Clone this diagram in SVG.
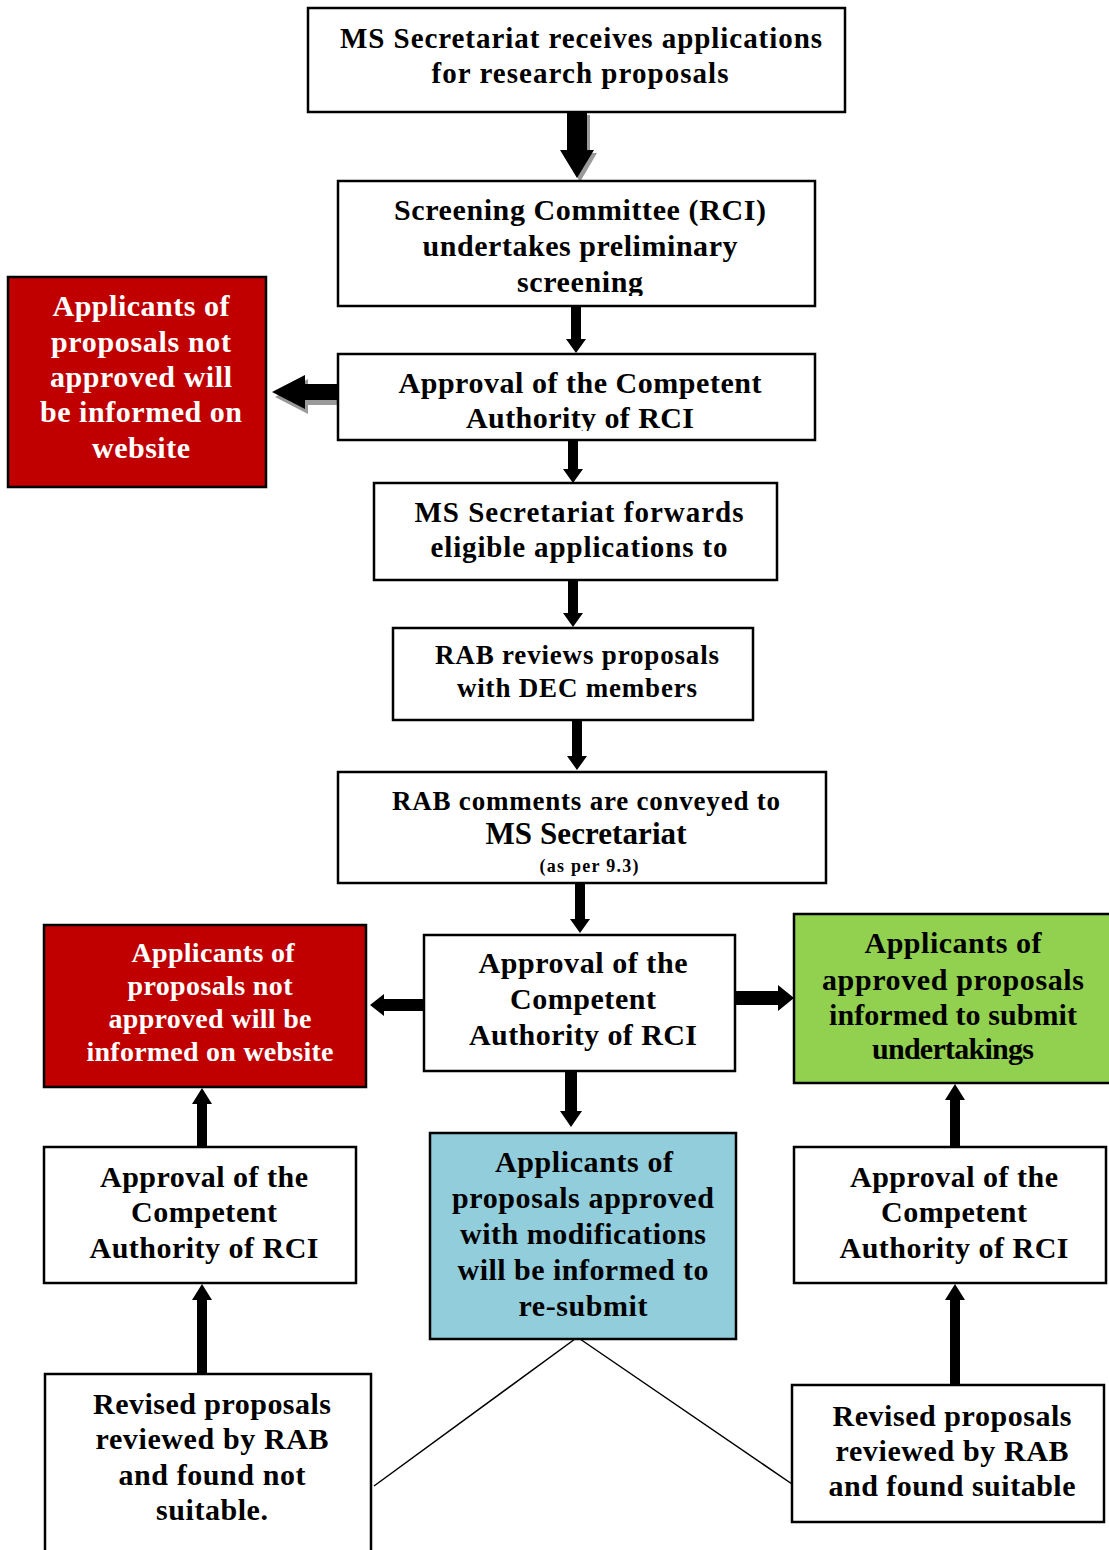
<svg xmlns="http://www.w3.org/2000/svg" width="1109" height="1550" viewBox="0 0 1109 1550">
<style>
.box{fill:#fff;stroke:#000;stroke-width:2.5}
.red{fill:#c00000;stroke:#000;stroke-width:2.5}
.green{fill:#92d050;stroke:#000;stroke-width:2.5}
.blue{fill:#92cddc;stroke:#000;stroke-width:2.5}
text{font-family:"Liberation Serif","Times New Roman",serif;font-weight:bold;text-anchor:middle;fill:#000}
.w{fill:#fff}
.arr{fill:#000}
.sh{fill:#9a9a9a}
.ln{stroke:#000;stroke-width:1.5;fill:none}
</style>
<defs>
<clipPath id="c2"><rect x="338" y="181" width="477" height="115"/></clipPath>
<clipPath id="c3"><rect x="338" y="354" width="477" height="77"/></clipPath>
</defs>
<g id="connectors">
<polygon class="sh" points="570,115 590,115 590,153 597,153 580,182 563,153 570,153"/>
<polygon class="arr" points="567,112 587,112 587,150 594,150 577,178 560,150 567,150"/>
<polygon class="arr" points="571,306 581,306 581,339 586,339 576,353 566,339 571,339"/>
<polygon class="sh" points="341,388 308,388 308,379 275,397 308,414 308,405 341,405"/>
<polygon class="arr" points="338,384 305,384 305,375 272,392 305,409 305,400 338,400"/>
<polygon class="arr" points="568,440 578,440 578,469 583,469 573,483 563,469 568,469"/>
<polygon class="arr" points="568,580 578,580 578,613 583,613 573,627 563,613 568,613"/>
<polygon class="arr" points="572,720 582,720 582,756 587,756 577,770 567,756 572,756"/>
<polygon class="arr" points="575,883 585,883 585,919 590,919 580,933 570,919 575,919"/>
<polygon class="arr" points="424,999 384,999 384,994 370,1005 384,1016 384,1011 424,1011"/>
<polygon class="arr" points="735,991 778,991 778,985 794,998 778,1011 778,1005 735,1005"/>
<polygon class="arr" points="565,1071 577,1071 577,1111 582,1111 571,1127 560,1111 565,1111"/>
<polygon class="arr" points="197,1147 207,1147 207,1104 212,1104 202,1088 192,1104 197,1104"/>
<polygon class="arr" points="197,1374 207,1374 207,1300 212,1300 202,1284 192,1300 197,1300"/>
<polygon class="arr" points="950,1147 960,1147 960,1100 965,1100 955,1084 945,1100 950,1100"/>
<polygon class="arr" points="950,1385 960,1385 960,1300 965,1300 955,1284 945,1300 950,1300"/>
<line class="ln" x1="575" y1="1339" x2="374" y2="1486"/>
<line class="ln" x1="580" y1="1339" x2="792" y2="1484"/>
</g>
<g id="n1">
<rect class="box" x="308" y="8" width="537" height="104"/>
<text x="581" y="48" font-size="29" textLength="482">MS Secretariat receives applications</text>
<text x="580" y="83" font-size="29" textLength="297">for research proposals</text>
</g>
<g id="n2">
<rect class="box" x="338" y="181" width="477" height="125"/>
<g clip-path="url(#c2)">
<text x="580" y="220" font-size="30" textLength="372">Screening Committee (RCI)</text>
<text x="580" y="256" font-size="30" textLength="315">undertakes preliminary</text>
<text x="580" y="292" font-size="30" textLength="126">screening</text>
</g>
</g>
<g id="n3">
<rect class="box" x="338" y="354" width="477" height="86"/>
<g clip-path="url(#c3)">
<text x="580" y="393" font-size="30" textLength="363">Approval of the Competent</text>
<text x="580" y="428" font-size="30" textLength="228">Authority of RCI</text>
</g>
</g>
<g id="n4">
<rect class="red" x="8" y="277" width="258" height="210"/>
<text class="w" x="141" y="316" font-size="30" textLength="177">Applicants of</text>
<text class="w" x="141" y="352" font-size="30" textLength="180">proposals not</text>
<text class="w" x="141" y="387" font-size="30" textLength="182">approved will</text>
<text class="w" x="141" y="422" font-size="30" textLength="202">be informed on</text>
<text class="w" x="141" y="458" font-size="30" textLength="98">website</text>
</g>
<g id="n5">
<rect class="box" x="374" y="483" width="403" height="97"/>
<text x="579" y="522" font-size="29" textLength="329">MS Secretariat forwards</text>
<text x="579" y="557" font-size="29" textLength="297">eligible applications to</text>
</g>
<g id="n6">
<rect class="box" x="393" y="628" width="360" height="92"/>
<text x="577" y="664" font-size="27" textLength="284">RAB reviews proposals</text>
<text x="577" y="697" font-size="27" textLength="240">with DEC members</text>
</g>
<g id="n7">
<rect class="box" x="338" y="772" width="488" height="111"/>
<text x="586" y="810" font-size="27" textLength="388">RAB comments are conveyed to</text>
<text x="586" y="844" font-size="31" textLength="201">MS Secretariat</text>
<text x="589" y="872" font-size="18" textLength="99">(as per 9.3)</text>
</g>
<g id="n8">
<rect class="box" x="424" y="935" width="311" height="136"/>
<text x="583" y="973" font-size="30" textLength="209">Approval of the</text>
<text x="583" y="1009" font-size="30" textLength="146">Competent</text>
<text x="583" y="1045" font-size="30" textLength="228">Authority of RCI</text>
</g>
<g id="n9">
<rect class="red" x="44" y="925" width="322" height="162"/>
<text class="w" x="213" y="962" font-size="28" textLength="163">Applicants of</text>
<text class="w" x="210" y="995" font-size="28" textLength="165">proposals not</text>
<text class="w" x="210" y="1028" font-size="28" textLength="203">approved will be</text>
<text class="w" x="210" y="1061" font-size="28" textLength="247">informed on website</text>
</g>
<g id="n10">
<rect class="green" x="794" y="914" width="320" height="169"/>
<text x="953" y="953" font-size="30" textLength="177">Applicants of</text>
<text x="953" y="990" font-size="30" textLength="262">approved proposals</text>
<text x="953" y="1025" font-size="30" textLength="248">informed to submit</text>
<text x="953" y="1059" font-size="30" textLength="162">undertakings</text>
</g>
<g id="n11">
<rect class="blue" x="430" y="1133" width="306" height="206"/>
<text x="584" y="1172" font-size="30" textLength="178">Applicants of</text>
<text x="583" y="1208" font-size="30" textLength="262">proposals approved</text>
<text x="583" y="1244" font-size="30" textLength="246">with modifications</text>
<text x="583" y="1280" font-size="30" textLength="251">will be informed to</text>
<text x="583" y="1316" font-size="30" textLength="129">re-submit</text>
</g>
<g id="n12">
<rect class="box" x="44" y="1147" width="312" height="136"/>
<text x="204" y="1187" font-size="30" textLength="208">Approval of the</text>
<text x="204" y="1222" font-size="30" textLength="146">Competent</text>
<text x="204" y="1258" font-size="30" textLength="229">Authority of RCI</text>
</g>
<g id="n13">
<rect class="box" x="794" y="1147" width="312" height="136"/>
<text x="954" y="1187" font-size="30" textLength="208">Approval of the</text>
<text x="954" y="1222" font-size="30" textLength="146">Competent</text>
<text x="954" y="1258" font-size="30" textLength="229">Authority of RCI</text>
</g>
<g id="n14">
<rect class="box" x="45" y="1374" width="326" height="190"/>
<text x="212" y="1414" font-size="30" textLength="238">Revised proposals</text>
<text x="212" y="1449" font-size="30" textLength="233">reviewed by RAB</text>
<text x="212" y="1485" font-size="30" textLength="187">and found not</text>
<text x="212" y="1520" font-size="30" textLength="112">suitable.</text>
</g>
<g id="n15">
<rect class="box" x="792" y="1385" width="312" height="137"/>
<text x="952" y="1426" font-size="30" textLength="239">Revised proposals</text>
<text x="952" y="1461" font-size="30" textLength="233">reviewed by RAB</text>
<text x="952" y="1496" font-size="30" textLength="247">and found suitable</text>
</g>
</svg>
